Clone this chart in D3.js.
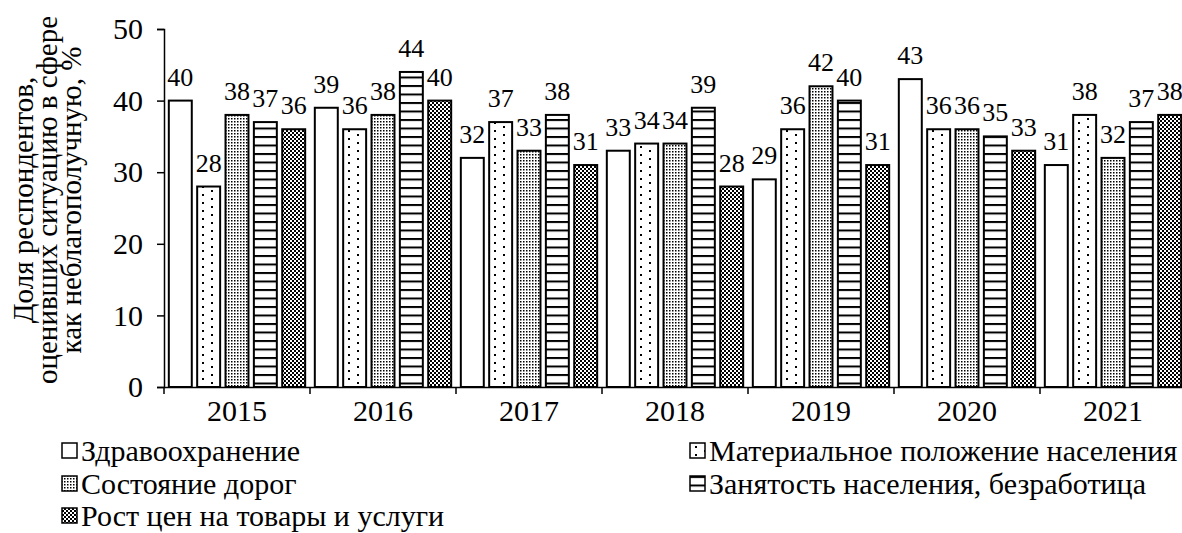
<!DOCTYPE html>
<html>
<head>
<meta charset="utf-8">
<script src="https://cdn.jsdelivr.net/npm/d3@7"></script>
<style>
  html, body { margin: 0; padding: 0; background: #fff; }
  svg { display: block; }
</style>
</head>
<body>
<svg id="chart" width="1182" height="533"></svg>
<script>
const years = ["2015", "2016", "2017", "2018", "2019", "2020", "2021"];
const seriesNames = [
  "Здравоохранение",
  "Материальное положение населения",
  "Состояние дорог",
  "Занятость населения, безработица",
  "Рост цен на товары и услуги"
];
const health     = [40, 39, 32, 33, 29, 43, 31];
const material   = [28, 36, 37, 34, 36, 36, 38];
const roads      = [38, 38, 33, 34, 42, 36, 32];
const employment = [37, 44, 38, 39, 40, 35, 37];
const prices     = [36, 40, 31, 28, 31, 33, 38];
const yTicks = [0, 10, 20, 30, 40, 50];
const yTitle = ["Доля респондентов,", "оценивших ситуацию в сфере", "как неблагополучную, %"];

const FONT = "'Liberation Serif', 'Times New Roman', serif";
const allSeries = [health, material, roads, employment, prices];
const patternIds = ["p0", "p1", "p2", "p3", "p4"];

const svg = d3.select("#chart");
const defs = svg.append("defs");

defs.append("pattern").attr("id", "p0").attr("patternUnits", "userSpaceOnUse")
  .attr("width", 4).attr("height", 4)
  .append("rect").attr("width", 4).attr("height", 4).attr("fill", "#fff");
{
  const p = defs.append("pattern").attr("id", "p1").attr("patternUnits", "userSpaceOnUse")
    .attr("width", 18).attr("height", 16);
  p.append("rect").attr("width", 18).attr("height", 16).attr("fill", "#fff");
  [[2, 2], [11, 6], [2, 10], [11, 14]].forEach(([x, y]) =>
    p.append("rect").attr("x", x).attr("y", y).attr("width", 2).attr("height", 2).attr("fill", "#000"));
}
{
  const p = defs.append("pattern").attr("id", "p2").attr("patternUnits", "userSpaceOnUse")
    .attr("width", 3).attr("height", 3);
  p.append("rect").attr("width", 3).attr("height", 3).attr("fill", "#fff");
  p.append("rect").attr("x", 1).attr("y", 1).attr("width", 1.5).attr("height", 1.5).attr("fill", "#000");
}
{
  const p = defs.append("pattern").attr("id", "p3").attr("patternUnits", "userSpaceOnUse")
    .attr("width", 8).attr("height", 8.5);
  p.append("rect").attr("width", 8).attr("height", 8.5).attr("fill", "#fff");
  p.append("rect").attr("x", 0).attr("y", 0).attr("width", 8).attr("height", 2).attr("fill", "#000");
}
{
  const p = defs.append("pattern").attr("id", "p4").attr("patternUnits", "userSpaceOnUse")
    .attr("width", 4).attr("height", 4);
  p.append("rect").attr("width", 4).attr("height", 4).attr("fill", "#fff");
  p.append("rect").attr("x", 0).attr("y", 0).attr("width", 2).attr("height", 2).attr("fill", "#000");
  p.append("rect").attr("x", 2).attr("y", 2).attr("width", 2).attr("height", 2).attr("fill", "#000");
}

const x0 = d3.scaleBand().domain(years).range([164, 1186]).padding(0);
const x1 = d3.scaleBand().domain(d3.range(5)).range([0, x0.bandwidth()])
  .paddingInner(0.19).paddingOuter(0.17);
const y = d3.scaleLinear().domain([0, 50]).range([387, 29]);

const groups = svg.append("g").selectAll("g").data(years).join("g")
  .attr("transform", d => `translate(${x0(d)},0)`);

groups.each(function (yr, yi) {
  const g = d3.select(this);
  allSeries.forEach((vals, si) => {
    const v = vals[yi];
    g.append("rect")
      .attr("x", x1(si)).attr("y", y(v))
      .attr("width", x1.bandwidth()).attr("height", y(0) - y(v))
      .attr("fill", `url(#${patternIds[si]})`)
      .attr("stroke", "#000").attr("stroke-width", 2);
    g.append("text")
      .attr("x", x1(si) + x1.bandwidth() / 2).attr("y", y(v) - 15)
      .attr("text-anchor", "middle")
      .style("font-family", FONT).style("font-size", "26px").style("fill", "#000")
      .text(v);
  });
});

const yAxis = svg.append("g").attr("transform", "translate(164,0)")
  .call(d3.axisLeft(y).tickValues(yTicks).tickSize(7).tickPadding(14));
yAxis.select(".domain").attr("stroke", "#000").attr("stroke-width", 1.5);
yAxis.selectAll(".tick line").attr("stroke", "#000").attr("stroke-width", 1.5);
yAxis.selectAll("text").style("font-family", FONT).style("font-size", "30px").style("fill", "#000");

const xAxis = svg.append("g").attr("transform", "translate(0,387)")
  .call(d3.axisBottom(x0).tickSize(0).tickPadding(13));
xAxis.select(".domain").attr("stroke", "#000").attr("stroke-width", 1.5);
xAxis.selectAll("text").style("font-family", FONT).style("font-size", "30px").style("fill", "#000");
svg.append("g").selectAll("line").data(years.map(d => x0(d)))
  .join("line")
  .attr("x1", d => d).attr("x2", d => d).attr("y1", 387).attr("y2", 394)
  .attr("stroke", "#000").attr("stroke-width", 1.5);

const yt = svg.append("g").attr("transform", "translate(0,200)");
yTitle.forEach((line, i) => {
  yt.append("text")
    .attr("transform", `translate(${33 + i * 24},0) rotate(-90)`)
    .attr("text-anchor", "middle")
    .style("font-family", FONT).style("font-size", "29px").style("fill", "#000")
    .text(line);
});

const legendPos = [
  { x: 62, y: 461 },
  { x: 690, y: 461 },
  { x: 62, y: 494 },
  { x: 690, y: 494 },
  { x: 62, y: 526 }
];
const lg = svg.append("g");
seriesNames.forEach((name, i) => {
  const p = legendPos[i];
  lg.append("rect")
    .attr("x", p.x).attr("y", p.y - 18).attr("width", 15).attr("height", 15)
    .attr("fill", `url(#${patternIds[i]})`)
    .attr("stroke", "#000").attr("stroke-width", 1.5);
  lg.append("text")
    .attr("x", p.x + 19).attr("y", p.y)
    .style("font-family", FONT).style("font-size", "30px").style("fill", "#000")
    .text(name);
});
</script>
</body>
</html>
